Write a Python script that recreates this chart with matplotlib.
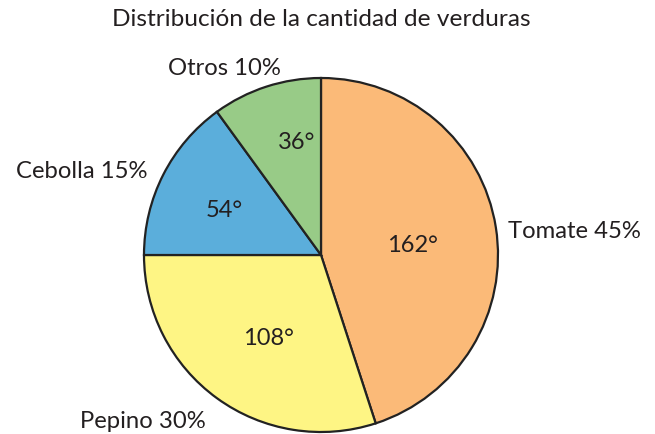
import matplotlib
matplotlib.use("Agg")
import matplotlib.pyplot as plt

categories = ["Tomate", "Pepino", "Cebolla", "Otros"]
percentages = [45, 30, 15, 10]
colors = ["#FBBA78", "#FEF584", "#5BAEDB", "#98CB87"]
title = "Distribución de la cantidad de verduras"

plt.rcParams["font.family"] = ["Lato", "DejaVu Sans"]

W, H = 655, 434
fig = plt.figure(figsize=(W / 100, H / 100), dpi=100)
cx, cy, r = 321, 255, 177
ax = fig.add_axes([(cx - r) / W, (H - cy - r) / H, 2 * r / W, 2 * r / H])

ax.pie(percentages, colors=colors, startangle=90, counterclock=False,
       radius=1, wedgeprops=dict(edgecolor="#222222", linewidth=1.6))
ax.set_xlim(-1, 1)
ax.set_ylim(-1, 1)
ax.axis("off")

degrees = [p * 360 // 100 for p in percentages]

# outer category labels: (x, y, horizontal alignment)
outer_pos = [(1.056, 0.130, "left"), (-1.362, -0.938, "left"),
             (-0.983, 0.469, "right"), (-0.548, 1.056, "center")]
# inner degree labels
inner_pos = [(0.514, 0.056), (-0.299, -0.469), (-0.548, 0.254), (-0.136, 0.633)]

for cat, pct, deg, (ox, oy, ha), (ix, iy) in zip(categories, percentages, degrees,
                                                 outer_pos, inner_pos):
    ax.text(ox, oy, f"{cat} {pct}%", ha=ha, va="center", fontsize=17.2,
            color="#231F20", clip_on=False)
    ax.text(ix, iy, f"{deg}°", ha="center", va="center", fontsize=17,
            color="#231F20")

fig.text(321 / W, 1 - 20 / H, title, ha="center", va="center", fontsize=17.6,
         color="#231F20")

fig.savefig("out.png", dpi=100, facecolor="white")
